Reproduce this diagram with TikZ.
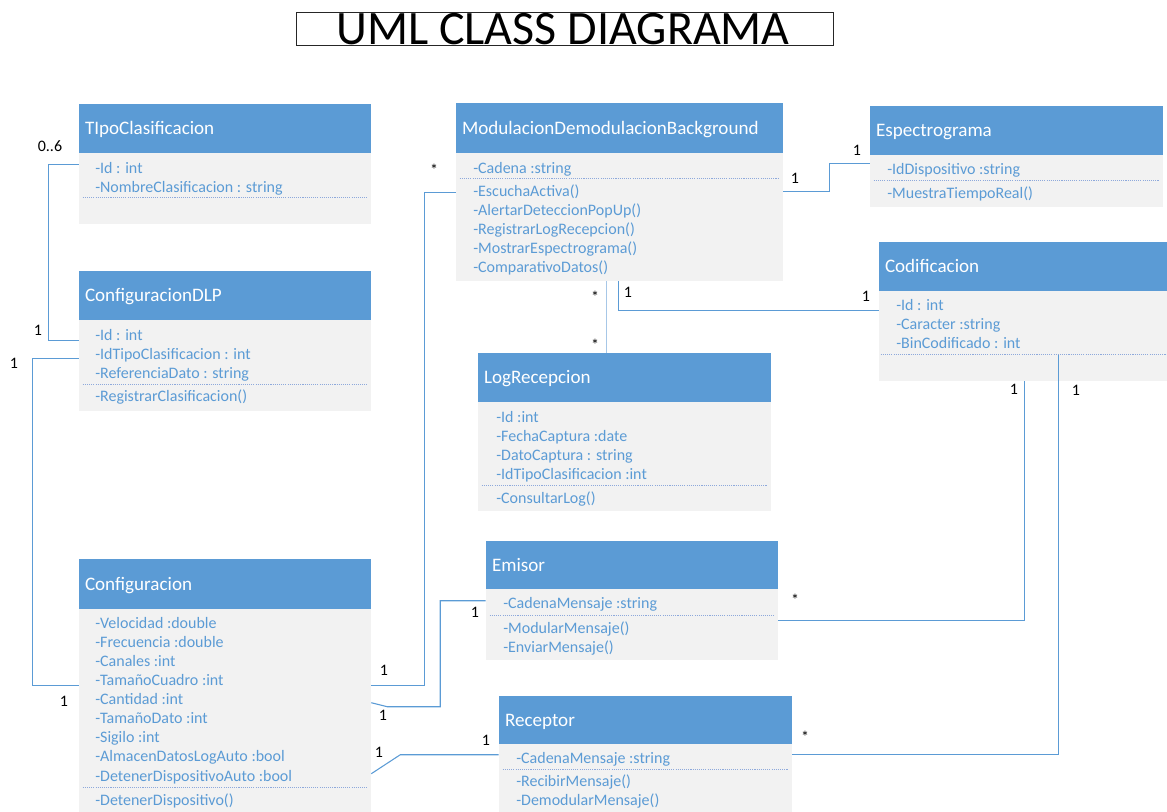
\documentclass[tikz,border=0pt]{standalone}
\usepackage{fontspec}
\setmainfont{Carlito}
\usetikzlibrary{calc,fit}
\definecolor{umlblue}{HTML}{5B9BD5}
\definecolor{umlbody}{HTML}{F2F2F2}
\definecolor{umlline}{HTML}{5B9BD5}
\definecolor{umlpale}{HTML}{A7C7E7}
\definecolor{umlsep}{HTML}{8EA9DB}

\tikzset{
  hdr/.style={fill=umlblue, inner sep=0pt, draw=none},
  bodybox/.style={fill=umlbody, inner sep=0pt, draw=none},
  hdrtext/.style={text=white, font=\fontsize{14.3}{16}\selectfont, anchor=west,
    inner sep=0pt, text height=9.2pt, text depth=0pt},
  rowtext/.style={text=umlblue, font=\fontsize{12}{14}\selectfont, anchor=west,
    inner sep=0pt, text height=8.8pt, text depth=1pt},
  sepline/.style={draw=umlsep, line width=0.6pt, dash pattern=on 0.8pt off 0.8pt},
  conn/.style={draw=umlline, line width=0.8pt},
  mult/.style={font=\fontsize{12}{14}\selectfont, inner sep=0pt},
}

% class box: name, left, top, right, header bottom, body bottom, title
\newcommand\umlclass[7]{%
  \node[hdr, fit={(#2,#3)(#4,#5)}] (#1H) {};
  \node[bodybox, fit={(#2,#5)(#4,#6)}] (#1B) {};
  \node[hdrtext] (#1T) at ($(#1H.west)+(6,0)$) {#7};
}
% rows of a compartment: node prefix, x, first y, list
\newcommand\umlrows[4]{%
  \foreach \r [count=\i] in {#4} {
    \node[rowtext] (#1\i) at (#2, {#3+(\i-1)*19.1}) {\r};
  }
}
% dotted separator inside a body at a given depth below its top
\newcommand\umlsep[2]{%
  \draw[sepline] ($(#1B.north west)+(4,#2)$) -- ($(#1B.north east)+(-4,#2)$);
}

\begin{document}
\begin{tikzpicture}[x=0.75pt, y=-0.75pt]
\useasboundingbox (0,0) rectangle (1167,812);

% title
\node[draw=black!85, line width=0.6pt, fit={(296,12)(833,45)}, inner sep=0pt] (titlebox) {};
\node[font=\fontsize{36}{38}\selectfont, inner sep=0pt, text height=23.2pt, text depth=0pt]
  (title) at (563,29) {UML CLASS DIAGRAMA};

% TIpoClasificacion
\umlclass{tipo}{79}{104}{371}{153}{224}{TIpoClasificacion}
\umlrows{tipoA}{95}{168}{-Id : int, -NombreClasificacion : string}
\umlsep{tipo}{45}

% ConfiguracionDLP
\umlclass{dlp}{79}{271}{371}{320}{411}{ConfiguracionDLP}
\umlrows{dlpA}{95}{335}{-Id : int, -IdTipoClasificacion : int, -ReferenciaDato : string}
\umlsep{dlp}{65}
\umlrows{dlpM}{95}{396}{-RegistrarClasificacion()}

% Configuracion
\umlclass{config}{79}{559}{371}{609}{812}{Configuracion}
\umlrows{configA}{95}{623}{-Velocidad :double, -Frecuencia :double, -Canales :int,
  -TamañoCuadro :int, -Cantidad :int, -TamañoDato :int, -Sigilo :int,
  -AlmacenDatosLogAuto :bool, -DetenerDispositivoAuto :bool}
\umlsep{config}{179}
\umlrows{configM}{95}{800}{-DetenerDispositivo()}

% ModulacionDemodulacionBackground
\umlclass{mod}{456}{103}{783}{153}{281}{ModulacionDemodulacionBackground}
\umlrows{modA}{473}{168}{-Cadena :string}
\umlsep{mod}{26}
\umlrows{modM}{473}{191}{-EscuchaActiva(), -AlertarDeteccionPopUp(), -RegistrarLogRecepcion(),
  -MostrarEspectrograma(), -ComparativoDatos()}

% Espectrograma
\umlclass{esp}{870}{106}{1163}{155}{207}{Espectrograma}
\umlrows{espA}{887}{169}{-IdDispositivo :string}
\umlsep{esp}{26}
\umlrows{espM}{887}{193}{-MuestraTiempoReal()}

% Codificacion
\umlclass{cod}{879}{242}{1167}{291}{381}{Codificacion}
\umlrows{codA}{896}{305}{-Id : int, -Caracter :string, -BinCodificado : int}
\draw[sepline] ($(codB.north west)+(2,64)$) -- ($(codB.north east)+(0,64)$);

% LogRecepcion
\umlclass{log}{478}{353}{771}{402}{511}{LogRecepcion}
\umlrows{logA}{496}{417}{-Id :int, -FechaCaptura :date, -DatoCaptura : string,
  -IdTipoClasificacion :int}
\umlsep{log}{84}
\umlrows{logM}{496}{498}{-ConsultarLog()}

% Emisor
\umlclass{em}{486}{541}{778}{589}{660}{Emisor}
\umlrows{emA}{503}{603}{-CadenaMensaje :string}
\umlsep{em}{27}
\umlrows{emM}{503}{628}{-ModularMensaje(), -EnviarMensaje()}

% Receptor
\umlclass{rec}{499}{696}{792}{744}{812}{Receptor}
\umlrows{recA}{516}{758}{-CadenaMensaje :string}
\umlsep{rec}{26}
\umlrows{recM}{516}{781}{-RecibirMensaje(), -DemodularMensaje()}

% associations
\draw[conn] ($(tipoB.north west)+(0,12)$) -- ++(-30,0) |- ($(dlpB.north west)+(0,21)$);
\draw[conn] ($(dlpB.north west)+(0,39)$) -- ++(-46,0) |- ($(configB.north west)+(0,77)$);
\draw[conn] ($(configB.north east)+(0,77)$) -- ++(53,0) |- ($(modB.north west)+(0,40)$);
\draw[conn] ($(configB.north east)+(0,94)$) -- ++(16,4) -- ++(53,0) |- ($(emB.north west)+(0,12)$);
\draw[conn] ($(configB.north east)+(0,165)$) -- ++(29,-19) -- ($(recB.north west)+(0,11)$);
\draw[conn] ($(modB.north east)+(0,39)$) -- ++(46,0) |- ($(espB.north west)+(0,9)$);
\draw[conn] ($(modB.south west)+(163,0)$) |- ($(codB.north west)+(0,20)$);
\draw[conn, draw=umlpale] ($(modB.south west)+(151,0)$) -- ($(logH.north west)+(129,0)$);
\draw[conn] ($(emB.north east)+(0,32)$) -| ($(codB.south west)+(146,0)$);
\draw[conn] ($(recB.north east)+(0,11)$) -| ($(codB.north west)+(180,64)$);

% multiplicities
\node[mult] (m1) at (50,146) {0..6};
\node[mult] (m2) at (38,330) {1};
\node[mult] (m3) at (14,363) {1};
\node[mult] (m4) at (64,701) {1};
\node[mult] (m5) at (434,170) {*};
\node[mult] (m6) at (384,670) {1};
\node[mult] (m7) at (383,715) {1};
\node[mult] (m8) at (475,612) {1};
\node[mult] (m9) at (379,752) {1};
\node[mult] (m10) at (486,740) {1};
\node[mult] (m11) at (795,178) {1};
\node[mult] (m12) at (857,150) {1};
\node[mult] (m13) at (595,297) {*};
\node[mult] (m14) at (595,345) {*};
\node[mult] (m15) at (628,292) {1};
\node[mult] (m16) at (866,296) {1};
\node[mult] (m17) at (1014,389) {1};
\node[mult] (m18) at (1076,390) {1};
\node[mult] (m19) at (795,600) {*};
\node[mult] (m20) at (805,737) {*};
\end{tikzpicture}
\end{document}
